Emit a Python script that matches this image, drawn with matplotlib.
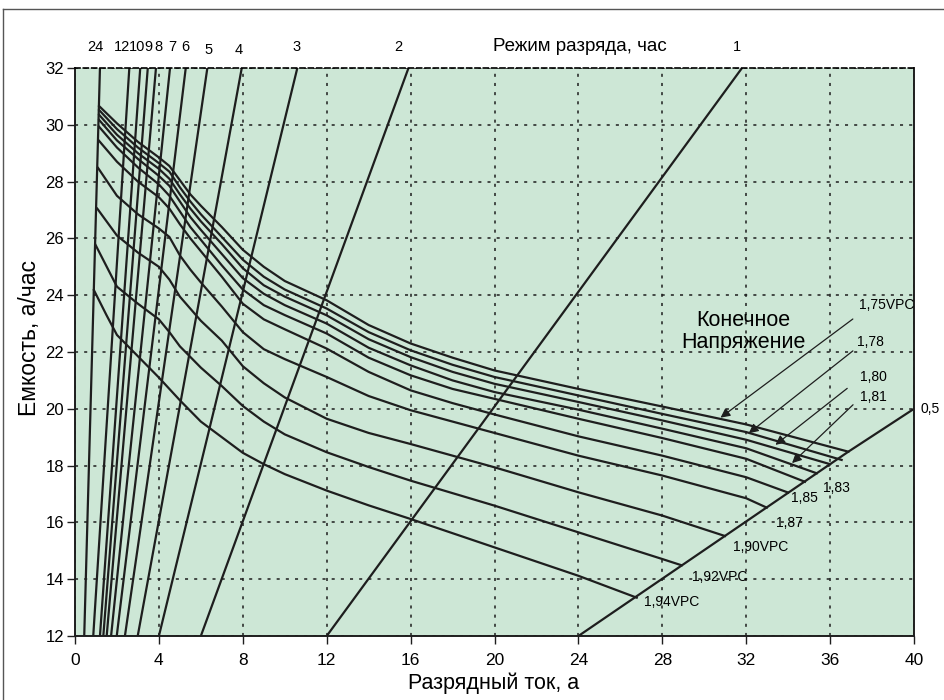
import matplotlib
matplotlib.use("Agg")
import matplotlib.pyplot as plt
from matplotlib.lines import Line2D

# === Hour-rate lines (discharge current at capacity 12 and at capacity 32) ===
hour_labels = ['24', '12', '10', '9', '8', '7', '6', '5', '4', '3', '2', '1']
hour_i_low = [0.44, 0.87, 1.19, 1.35, 1.51, 1.72, 1.99, 2.38, 2.99, 4.0, 6.0, 12.0]
hour_i_top = [1.19, 2.59, 3.11, 3.47, 3.86, 4.53, 5.28, 6.31, 7.95, 10.6, 15.9, 31.8]
hour_label_x = [0.95, 2.23, 2.94, 3.49, 4.0, 4.64, 5.28, 6.36, 7.82, 10.54, 15.4, 31.56]
hour_label_y = [32.74, 32.74, 32.74, 32.74, 32.74, 32.74, 32.74, 32.62, 32.62, 32.74, 32.74, 32.74]

# 0.5 hour line
half_i = [24.0, 36.87, 40.0]
half_c = [12.0, 18.49, 20.0]

# === End voltage curves (current, capacity) ===
i_175 = [1.15, 2, 3, 4, 4.5, 5, 5.5, 6, 7, 8, 9, 10, 12, 14, 16, 18, 20, 24, 28, 32, 36.87]
c_175 = [30.66, 30.05, 29.4, 28.85, 28.55, 28.05, 27.55, 27.15, 26.4, 25.6, 25.0, 24.5, 23.82, 22.95, 22.3, 21.8, 21.35, 20.7, 20.08, 19.45, 18.49]

i_178 = [1.15, 2, 3, 4, 4.5, 5, 5.5, 6, 7, 8, 9, 10, 12, 14, 16, 18, 20, 24, 28, 32, 36.55]
c_178 = [30.52, 29.85, 29.2, 28.65, 28.35, 27.8, 27.3, 26.85, 26.05, 25.25, 24.65, 24.2, 23.53, 22.7, 22.06, 21.55, 21.12, 20.47, 19.82, 19.18, 18.2]

i_180 = [1.15, 2, 3, 4, 4.5, 5, 5.5, 6, 7, 8, 9, 10, 12, 14, 16, 18, 20, 24, 28, 32, 36.0]
c_180 = [30.35, 29.65, 29.0, 28.45, 28.1, 27.55, 27.05, 26.6, 25.8, 24.95, 24.35, 23.95, 23.29, 22.45, 21.82, 21.3, 20.88, 20.24, 19.59, 18.91, 18.05]

i_181 = [1.15, 2, 3, 4, 4.5, 5, 5.5, 6, 7, 8, 9, 10, 12, 14, 16, 18, 20, 24, 28, 32, 35.36]
c_181 = [30.17, 29.45, 28.8, 28.2, 27.85, 27.3, 26.75, 26.3, 25.45, 24.6, 24.05, 23.65, 23.0, 22.15, 21.53, 21.0, 20.59, 19.97, 19.3, 18.61, 17.73]

i_183 = [1.15, 2, 3, 4, 4.5, 5, 5.5, 6, 7, 8, 9, 10, 12, 14, 16, 18, 20, 24, 28, 32, 34.8]
c_183 = [29.93, 29.2, 28.5, 27.9, 27.5, 26.95, 26.4, 25.95, 25.05, 24.2, 23.65, 23.3, 22.65, 21.8, 21.18, 20.7, 20.35, 19.65, 18.97, 18.24, 17.43]

i_185 = [1.13, 2, 3, 4, 4.5, 5, 5.5, 6, 7, 8, 9, 10, 12, 14, 16, 18, 20, 24, 28, 32, 34.0]
c_185 = [29.45, 28.7, 28.0, 27.45, 27.05, 26.5, 26.0, 25.55, 24.65, 23.7, 23.15, 22.8, 22.12, 21.3, 20.65, 20.2, 19.8, 19.03, 18.35, 17.59, 17.05]

i_187 = [1.1, 2, 3, 4, 4.5, 5, 5.5, 6, 7, 8, 9, 10, 12, 14, 16, 18, 20, 24, 28, 32, 32.98]
c_187 = [28.48, 27.5, 26.85, 26.35, 26.05, 25.4, 24.9, 24.45, 23.6, 22.7, 22.1, 21.75, 21.12, 20.45, 19.95, 19.55, 19.15, 18.35, 17.65, 16.85, 16.52]

i_190 = [1.06, 2, 3, 4, 4.5, 5, 6, 7, 8, 9, 10, 12, 14, 16, 18, 20, 24, 28, 30.99]
c_190 = [27.05, 26.1, 25.5, 25.0, 24.55, 23.95, 23.1, 22.4, 21.5, 20.9, 20.4, 19.65, 19.15, 18.76, 18.35, 17.94, 17.06, 16.24, 15.52]

i_192 = [0.98, 2, 3, 4, 4.5, 5, 6, 7, 8, 9, 10, 12, 14, 16, 18, 20, 24, 28, 28.92]
c_192 = [25.77, 24.3, 23.7, 23.15, 22.7, 22.2, 21.45, 20.8, 20.1, 19.55, 19.1, 18.47, 17.95, 17.47, 17.03, 16.59, 15.65, 14.71, 14.49]

i_194 = [0.9, 1.5, 2, 3, 4, 5, 6, 7, 8, 9, 10, 12, 14, 16, 18, 20, 24, 26.78]
c_194 = [24.18, 23.3, 22.6, 21.85, 21.1, 20.3, 19.55, 19.0, 18.45, 18.05, 17.7, 17.12, 16.6, 16.12, 15.62, 15.12, 14.12, 13.35]

# === Labels ===
arrow_labels = ['1,75VPC', '1,78', '1,80', '1,81']
arrow_label_x = [38.7, 37.93, 38.06, 38.06]
arrow_label_y = [23.65, 22.36, 21.13, 20.43]
arrow_tail_x = [37.19, 37.19, 36.92, 37.19]
arrow_tail_y = [23.22, 22.10, 20.78, 20.21]
arrow_head_x = [30.67, 32.02, 33.29, 34.09]
arrow_head_y = [19.63, 19.08, 18.67, 18.02]

end_labels = ['1,83', '1,85', '1,87', '1,90VPC', '1,92VPC', '1,94VPC']
end_label_x = [36.28, 34.8, 34.05, 32.7, 30.75, 28.46]
end_label_y = [17.2, 16.85, 15.97, 15.14, 14.09, 13.2]

BG = '#cde7d6'
INK = '#1e1e1e'
FONT = ['Liberation Sans', 'DejaVu Sans']
NARROW = ['Liberation Sans Narrow', 'Liberation Sans', 'DejaVu Sans']

plt.rcParams['font.family'] = FONT

fig = plt.figure(figsize=(9.44, 7.0), dpi=100)
ax = fig.add_axes([75 / 944, 1 - 636 / 700, 839 / 944, 568 / 700])
ax.set_facecolor(BG)
ax.set_xlim(0, 40)
ax.set_ylim(12, 32)

# grid
ax.set_xticks(range(0, 41, 4))
ax.set_yticks(range(12, 33, 2))
ax.grid(True, color=INK, linestyle=(0, (2, 4)), linewidth=1.1)
ax.set_axisbelow(True)

# hour-rate lines
for lo, hi in zip(hour_i_low, hour_i_top):
    ax.plot([lo, hi], [12, 32], color=INK, lw=1.6)
ax.plot(half_i, half_c, color=INK, lw=1.6)

for lab, lx, ly in zip(hour_labels, hour_label_x, hour_label_y):
    ax.text(lx, ly, lab, ha='center', va='center', fontsize=10.5, clip_on=False)
ax.text(24.08, 32.74, 'Режим разряда, час', ha='center', va='center', fontsize=13.5, clip_on=False)
ax.text(40.76, 19.98, '0,5', ha='center', va='center', fontsize=10, clip_on=False)

# end voltage curves
curves = [(i_175, c_175), (i_178, c_178), (i_180, c_180), (i_181, c_181), (i_183, c_183),
          (i_185, c_185), (i_187, c_187), (i_190, c_190), (i_192, c_192), (i_194, c_194)]
for cx, cy in curves:
    ax.plot(cx, cy, color=INK, lw=1.6, solid_joinstyle='round')

# arrows and labels
for lab, lx, ly, tx, ty, hx, hy in zip(arrow_labels, arrow_label_x, arrow_label_y,
                                       arrow_tail_x, arrow_tail_y, arrow_head_x, arrow_head_y):
    ax.annotate('', xy=(hx, hy), xytext=(tx, ty),
                arrowprops=dict(arrowstyle='-|>', color=INK, lw=0.9, mutation_scale=14))
    ax.text(lx, ly, lab, ha='center', va='center', fontsize=10, clip_on=False)

for lab, lx, ly in zip(end_labels, end_label_x, end_label_y):
    ax.text(lx, ly, lab, ha='center', va='center', fontsize=10)

ax.text(31.86, 22.72, 'Конечное\nНапряжение', ha='center', va='center', fontsize=15.5, linespacing=1.05)

# axes look
for s in ['left', 'bottom', 'right']:
    ax.spines[s].set_linewidth(1.4)
    ax.spines[s].set_color(INK)
ax.spines['top'].set_linestyle((0, (3, 2)))
ax.spines['top'].set_linewidth(1.2)
ax.tick_params(axis='both', direction='out', length=6, width=1, color=INK)
ax.tick_params(axis='y', labelsize=12, pad=2)
ax.tick_params(axis='x', labelsize=12.5, pad=6)
for t in ax.get_xticklabels():
    t.set_family(NARROW)

fig.text(494 / 944, 1 - 683 / 700, 'Разрядный ток, а', ha='center', va='center', fontsize=15.5)
fig.text(30 / 944, 1 - 338 / 700, 'Емкость, а/час', ha='center', va='center', fontsize=16.5, rotation=90)

# outer frame
fig.add_artist(Line2D([3 / 944, 3 / 944], [0, 1 - 9 / 700], transform=fig.transFigure, color='#555555', lw=1))
fig.add_artist(Line2D([3 / 944, 1], [1 - 9 / 700, 1 - 9 / 700], transform=fig.transFigure, color='#555555', lw=1))

fig.savefig('out.png', dpi=100)
